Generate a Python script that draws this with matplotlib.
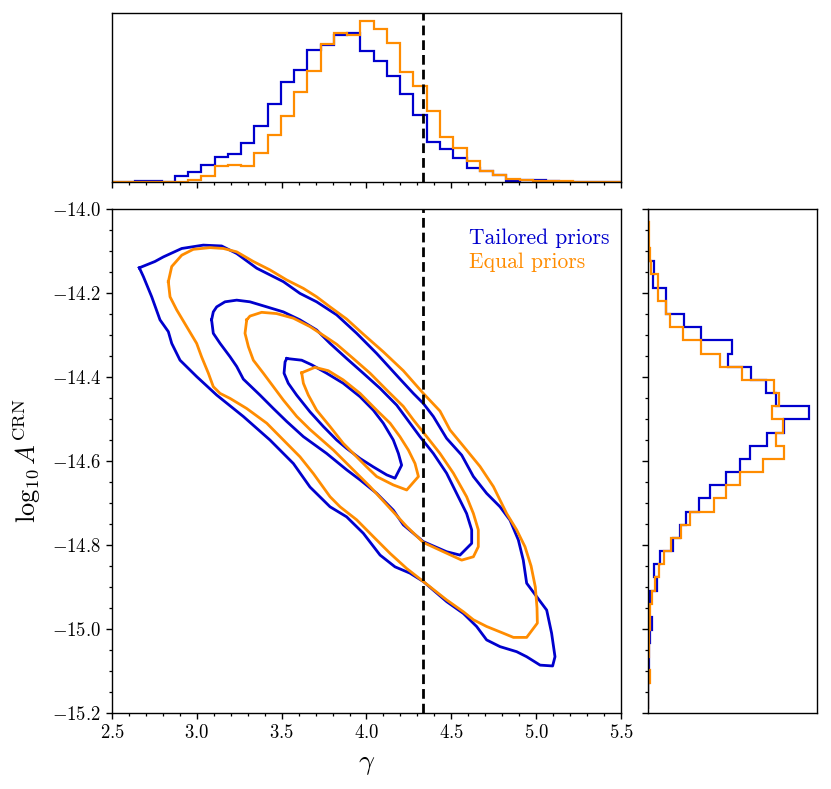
import numpy as np
import matplotlib
matplotlib.use("Agg")
import matplotlib.pyplot as plt

plt.rcParams['font.family'] = 'serif'
plt.rcParams['font.serif'] = ['cmr10', 'DejaVu Serif']
plt.rcParams['mathtext.fontset'] = 'cm'
plt.rcParams['axes.formatter.use_mathtext'] = True
plt.rcParams['axes.unicode_minus'] = True

# ---------------- data ----------------
series_names = ["Tailored priors", "Equal priors"]
series_colors = ["#0000CD", "#FF8C00"]
gamma_true = 13.0 / 3.0

# top marginal histogram of gamma (40 bins)
gamma_edges = np.linspace(2.402, 5.527, 41)
gamma_hist_tailored = [0, 0, 0, 3, 3, 0,
                       17, 30, 51, 75, 84, 116, 166, 233, 298, 332,
                       393, 408, 437, 442, 390, 360, 316, 260, 200, 120,
                       97, 72, 42, 32, 22, 2, 7, 5, 3, 1,
                       1, 1, 0, 0]
gamma_hist_equal = [1, 1, 1, 1, 1, 1,
                    1, 7, 17, 47, 51, 48, 87, 140, 197, 266,
                    330, 409, 444, 437, 477, 455, 412, 327, 284, 210,
                    135, 102, 62, 32, 22, 10, 5, 3, 2, 2,
                    1, 1, 1, 1]

# right marginal histogram of log10 A (38 bins), listed from top (-14.0) downwards
logA_edges = np.linspace(-15.191, -13.999, 39)
logA_hist_tailored_top_down = [0, 0, 1, 2,
                               17, 15, 55, 55, 109, 159, 252, 239, 310, 354,
                               384, 484, 409, 357, 307, 275, 235, 185, 154, 114,
                               95, 74, 35, 19, 27, 5, 4, 12, 5, 3,
                               3, 2, 1, 0]
logA_hist_equal_top_down = [1, 3, 4, 5,
                            9, 29, 29, 55, 67, 104, 159, 217, 282, 377,
                            394, 372, 404, 384, 407, 345, 277, 235, 197, 125,
                            99, 69, 47, 32, 22, 12, 7, 5, 3, 2,
                            1, 6, 1, 0]

# credible-region contours (gamma, log10 A), three levels per series
tailored_outer = [(2.661, -14.140), (2.753, -14.125), (2.803, -14.114), (2.911, -14.094),
                  (3.038, -14.086), (3.146, -14.088), (3.235, -14.106), (3.353, -14.141),
                  (3.510, -14.173), (3.608, -14.201), (3.706, -14.221), (3.824, -14.252),
                  (3.942, -14.296), (4.060, -14.344), (4.198, -14.405), (4.276, -14.439),
                  (4.335, -14.463), (4.394, -14.494), (4.472, -14.546), (4.561, -14.586),
                  (4.630, -14.637), (4.708, -14.677), (4.787, -14.709), (4.846, -14.741),
                  (4.895, -14.788), (4.924, -14.836), (4.944, -14.891), (5.062, -14.955),
                  (5.091, -15.010), (5.111, -15.066), (5.097, -15.088), (5.023, -15.086),
                  (4.944, -15.066), (4.885, -15.054), (4.787, -15.042), (4.708, -15.026),
                  (4.649, -14.994), (4.571, -14.963), (4.473, -14.935), (4.335, -14.887),
                  (4.256, -14.867), (4.168, -14.852), (4.080, -14.824), (3.981, -14.772),
                  (3.883, -14.733), (3.785, -14.709), (3.667, -14.662), (3.569, -14.606),
                  (3.431, -14.550), (3.274, -14.494), (3.117, -14.443), (2.999, -14.399),
                  (2.901, -14.360), (2.852, -14.320), (2.832, -14.292), (2.783, -14.264),
                  (2.734, -14.209), (2.685, -14.161)]
tailored_middle = [(3.087, -14.264), (3.097, -14.245), (3.117, -14.233), (3.166, -14.221),
                   (3.235, -14.217), (3.313, -14.221), (3.412, -14.233), (3.510, -14.245),
                   (3.608, -14.264), (3.706, -14.288), (3.785, -14.320), (3.883, -14.356),
                   (3.981, -14.391), (4.080, -14.427), (4.178, -14.467), (4.315, -14.542),
                   (4.394, -14.582), (4.472, -14.629), (4.531, -14.677), (4.590, -14.725),
                   (4.620, -14.764), (4.620, -14.796), (4.551, -14.824), (4.472, -14.816),
                   (4.335, -14.792), (4.217, -14.752), (4.158, -14.717), (4.060, -14.677),
                   (3.962, -14.645), (3.883, -14.621), (3.765, -14.582), (3.628, -14.542),
                   (3.530, -14.506), (3.451, -14.475), (3.372, -14.443), (3.274, -14.405),
                   (3.235, -14.375), (3.196, -14.352), (3.137, -14.320), (3.097, -14.296)]
tailored_inner = [(3.530, -14.356), (3.618, -14.360), (3.677, -14.371), (3.765, -14.391),
                  (3.863, -14.415), (3.962, -14.447), (4.040, -14.479), (4.099, -14.510),
                  (4.158, -14.550), (4.188, -14.582), (4.207, -14.610), (4.168, -14.641),
                  (4.119, -14.633), (4.040, -14.614), (3.962, -14.594), (3.883, -14.570),
                  (3.824, -14.550), (3.746, -14.518), (3.667, -14.483), (3.588, -14.443),
                  (3.539, -14.415), (3.514, -14.391), (3.520, -14.364)]
equal_outer = [(2.832, -14.173), (2.852, -14.137), (2.911, -14.110), (2.979, -14.096),
               (3.078, -14.092), (3.156, -14.094), (3.235, -14.102), (3.333, -14.125),
               (3.431, -14.145), (3.530, -14.169), (3.628, -14.189), (3.706, -14.209),
               (3.785, -14.233), (3.883, -14.262), (3.981, -14.298), (4.099, -14.340),
               (4.217, -14.385), (4.335, -14.439), (4.433, -14.481), (4.492, -14.526),
               (4.590, -14.574), (4.669, -14.613), (4.748, -14.661), (4.826, -14.725),
               (4.885, -14.764), (4.934, -14.804), (4.970, -14.850), (4.995, -14.900),
               (5.005, -14.950), (5.007, -14.986), (4.944, -15.020), (4.866, -15.020),
               (4.806, -15.010), (4.708, -14.994), (4.630, -14.978), (4.571, -14.959),
               (4.473, -14.931), (4.335, -14.887), (4.237, -14.856), (4.139, -14.820),
               (4.040, -14.780), (3.942, -14.740), (3.844, -14.709), (3.785, -14.685),
               (3.687, -14.630), (3.608, -14.590), (3.510, -14.550), (3.412, -14.510),
               (3.294, -14.475), (3.196, -14.451), (3.137, -14.439), (3.097, -14.423),
               (3.068, -14.391), (3.028, -14.352), (2.999, -14.320), (2.940, -14.280),
               (2.881, -14.240), (2.842, -14.209)]
equal_middle = [(3.294, -14.264), (3.313, -14.255), (3.382, -14.246), (3.470, -14.249),
                (3.569, -14.260), (3.667, -14.280), (3.765, -14.306), (3.824, -14.322),
                (3.922, -14.356), (4.021, -14.391), (4.119, -14.431), (4.217, -14.470),
                (4.276, -14.502), (4.355, -14.542), (4.433, -14.582), (4.512, -14.629),
                (4.590, -14.685), (4.630, -14.725), (4.659, -14.764), (4.659, -14.804),
                (4.630, -14.828), (4.561, -14.836), (4.453, -14.816), (4.335, -14.794),
                (4.237, -14.756), (4.021, -14.661), (3.805, -14.574), (3.667, -14.525),
                (3.589, -14.494), (3.510, -14.455), (3.451, -14.423), (3.392, -14.391),
                (3.333, -14.360), (3.304, -14.328), (3.284, -14.296)]
equal_inner = [(3.618, -14.390), (3.696, -14.377), (3.775, -14.385), (3.863, -14.407),
               (3.962, -14.439), (4.060, -14.479), (4.139, -14.510), (4.197, -14.542),
               (4.247, -14.574), (4.286, -14.606), (4.306, -14.637), (4.237, -14.669),
               (4.158, -14.657), (4.060, -14.637), (4.001, -14.614), (3.942, -14.590),
               (3.863, -14.558), (3.785, -14.518), (3.706, -14.479), (3.657, -14.443),
               (3.628, -14.415)]

contours = {
    "Tailored priors": [tailored_outer, tailored_middle, tailored_inner],
    "Equal priors": [equal_outer, equal_middle, equal_inner],
}

# ---------------- figure ----------------
W, H = 831, 789
fig = plt.figure(figsize=(W / 100, H / 100), dpi=100)

def rect(x0, y0, x1, y1):
    return [x0 / W, 1 - y1 / H, (x1 - x0) / W, (y1 - y0) / H]

ax = fig.add_axes(rect(112, 209, 621, 713))
axt = fig.add_axes(rect(112, 13, 621, 182))
axr = fig.add_axes(rect(648, 209, 817, 713))

lw_c = 2.0
for name, color in zip(series_names, series_colors):
    for poly in contours[name]:
        arr = np.array(poly + [poly[0]])
        ax.plot(arr[:, 0], arr[:, 1], color=color, lw=lw_c, solid_joinstyle='round')

ax.axvline(gamma_true, color='black', ls='--', lw=2.0, dashes=(3.5, 1.8))
ax.set_xlim(2.5, 5.5)
ax.set_ylim(-15.2, -14.0)
ax.set_xticks(np.arange(2.5, 5.51, 0.5))
ax.set_xticks(np.arange(2.5, 5.51, 0.1), minor=True)
ax.set_yticks(np.arange(-15.2, -13.99, 0.2))
ax.set_yticks(np.arange(-15.2, -13.99, 0.05), minor=True)
ax.xaxis.set_major_formatter(matplotlib.ticker.FuncFormatter(lambda v, p: r'$%.1f$' % v))
ax.yaxis.set_major_formatter(matplotlib.ticker.FuncFormatter(lambda v, p: r'$%.1f$' % v if v >= 0 else r'$-%.1f$' % (-v)))
ax.tick_params(which='both', direction='out', labelsize=13.5)
ax.tick_params(which='major', length=4.5, width=1.0)
ax.tick_params(which='minor', length=2.5, width=0.9)
ax.set_xlabel(r'$\gamma$', fontsize=20, labelpad=6)
ax.set_ylabel(r'$\log_{10}A^{\rm CRN}$', fontsize=19, labelpad=6)

# legend text
ax.text(0.7014, 0.9306, series_names[0], color=series_colors[0], transform=ax.transAxes,
        fontsize=15.5, ha='left', va='baseline')
ax.text(0.7014, 0.8829, series_names[1], color=series_colors[1], transform=ax.transAxes,
        fontsize=15.5, ha='left', va='baseline')

# top histogram
axt.stairs(gamma_hist_tailored, gamma_edges, color=series_colors[0], lw=1.6, baseline=None)
axt.stairs(gamma_hist_equal, gamma_edges, color=series_colors[1], lw=1.6, baseline=None)
axt.axvline(gamma_true, color='black', ls='--', lw=2.0, dashes=(3.5, 1.8))
axt.set_xlim(2.5, 5.5)
axt.set_ylim(0, 502)
axt.set_xticks(np.arange(2.5, 5.51, 0.5))
axt.set_xticks(np.arange(2.5, 5.51, 0.1), minor=True)
axt.tick_params(which='both', direction='out', labelbottom=False)
axt.tick_params(which='major', length=4.5, width=1.0)
axt.tick_params(which='minor', length=2.5, width=0.9)
axt.set_yticks([])

# right histogram (horizontal)
logA_hist_tailored = logA_hist_tailored_top_down[::-1]
logA_hist_equal = logA_hist_equal_top_down[::-1]
axr.stairs(logA_hist_tailored, logA_edges, orientation='horizontal', color=series_colors[0], lw=1.6, baseline=None)
axr.stairs(logA_hist_equal, logA_edges, orientation='horizontal', color=series_colors[1], lw=1.6, baseline=None)
axr.set_ylim(-15.2, -14.0)
axr.set_xlim(0, 507)
axr.set_yticks(np.arange(-15.2, -13.99, 0.2))
axr.set_yticks(np.arange(-15.2, -13.99, 0.05), minor=True)
axr.tick_params(which='both', direction='out', labelleft=False)
axr.tick_params(which='major', length=4.5, width=1.0)
axr.tick_params(which='minor', length=2.5, width=0.9)
axr.set_xticks([])

for a in (ax, axt, axr):
    for s in a.spines.values():
        s.set_linewidth(1.0)

fig.savefig("out.png", dpi=100)
